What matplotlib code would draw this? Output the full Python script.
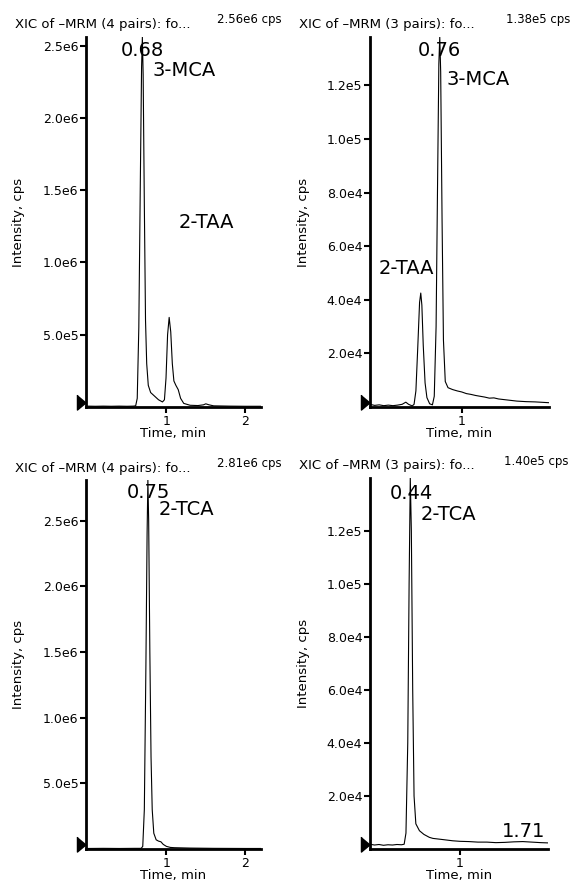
import matplotlib.pyplot as plt
from matplotlib.ticker import FixedLocator, FuncFormatter

plt.rcParams.update(
    {
        "font.family": "DejaVu Sans",
        "font.size": 9,
        "axes.linewidth": 2.0,
    }
)

# top-left: 3-MCA / 2-TAA, 4 pairs
tl_time = [0.00, 0.10, 0.20, 0.30, 0.40, 0.50, 0.58, 0.61, 0.63, 0.65, 0.67, 0.685,
           0.695, 0.705, 0.72, 0.735, 0.75, 0.77, 0.80, 0.85, 0.90, 0.95, 0.975,
           0.995, 1.015, 1.035, 1.055, 1.075, 1.095, 1.12, 1.15, 1.18, 1.22, 1.30,
           1.40, 1.47, 1.50, 1.54, 1.60, 1.80, 2.00, 2.20]
tl_cps = [0.006, 0.005, 0.006, 0.005, 0.006, 0.005, 0.006, 0.008, 0.06, 0.55, 1.60,
          2.35, 2.56, 2.30, 1.40, 0.60, 0.30, 0.15, 0.10, 0.075, 0.05, 0.035, 0.05,
          0.20, 0.50, 0.62, 0.52, 0.30, 0.18, 0.15, 0.12, 0.06, 0.025, 0.012,
          0.010, 0.015, 0.022, 0.015, 0.008, 0.006, 0.005, 0.005]  # x1e6

# top-right: 2-TAA / 3-MCA, 3 pairs
tr_time = [0.00, 0.05, 0.10, 0.15, 0.20, 0.25, 0.30, 0.35, 0.39, 0.42, 0.46, 0.48,
           0.50, 0.52, 0.54, 0.553, 0.565, 0.58, 0.60, 0.62, 0.65, 0.68, 0.70, 0.72,
           0.735, 0.75, 0.76, 0.77, 0.785, 0.80, 0.82, 0.85, 0.90, 0.95, 1.00, 1.05,
           1.10, 1.15, 1.20, 1.25, 1.30, 1.35, 1.40, 1.50, 1.60, 1.70, 1.80, 1.90,
           1.95]
tr_cps = [0.10, 0.06, 0.08, 0.05, 0.07, 0.05, 0.07, 0.10, 0.18, 0.10, 0.04, 0.10,
          0.60, 2.20, 3.90, 4.25, 3.80, 2.30, 0.90, 0.35, 0.12, 0.08, 0.40, 3.00,
          8.00, 12.8, 13.8, 12.5, 7.00, 2.50, 0.95, 0.72, 0.65, 0.60, 0.56, 0.50,
          0.47, 0.43, 0.40, 0.37, 0.33, 0.34, 0.30, 0.26, 0.22, 0.20, 0.19, 0.17,
          0.16]  # x1e4

# bottom-left: 2-TCA, 4 pairs
bl_time = [0.00, 0.20, 0.40, 0.60, 0.68, 0.70, 0.72, 0.74, 0.755, 0.765, 0.775,
           0.79, 0.805, 0.82, 0.84, 0.87, 0.90, 0.93, 0.96, 1.00, 1.05, 1.10, 1.30,
           1.60, 2.00, 2.20]
bl_cps = [0.004, 0.005, 0.004, 0.005, 0.005, 0.02, 0.30, 1.40, 2.40, 2.81, 2.50,
          1.50, 0.70, 0.30, 0.12, 0.07, 0.06, 0.055, 0.035, 0.02, 0.012, 0.010,
          0.007, 0.005, 0.004, 0.004]  # x1e6

# bottom-right: 2-TCA, 3 pairs
br_time = [0.00, 0.05, 0.10, 0.15, 0.20, 0.25, 0.30, 0.35, 0.38, 0.40, 0.42, 0.435,
           0.448, 0.46, 0.475, 0.49, 0.51, 0.55, 0.60, 0.66, 0.70, 0.80, 0.92, 1.00,
           1.10, 1.20, 1.30, 1.40, 1.50, 1.60, 1.70, 1.80, 1.90, 1.98]
br_cps = [0.18, 0.15, 0.17, 0.14, 0.16, 0.15, 0.17, 0.16, 0.18, 0.60, 4.0, 10.0,
          14.0, 12.0, 6.0, 2.0, 0.95, 0.69, 0.55, 0.44, 0.40, 0.36, 0.31, 0.29,
          0.28, 0.26, 0.26, 0.24, 0.25, 0.27, 0.28, 0.26, 0.24, 0.23]  # x1e4

headers = ["XIC of \u2013MRM (4 pairs): fo...", "XIC of \u2013MRM (3 pairs): fo...",
           "XIC of \u2013MRM (4 pairs): fo...", "XIC of \u2013MRM (3 pairs): fo..."]
max_cps = [2.56e6, 1.38e5, 2.81e6, 1.40e5]
scales = [1e6, 1e4, 1e6, 1e4]
xmax = [2.2, 1.95, 2.2, 1.98]
x_ticks = [[1, 2], [1], [1, 2], [1]]
y_ticks = [
    [5e5, 1e6, 1.5e6, 2e6, 2.5e6],
    [2e4, 4e4, 6e4, 8e4, 1e5, 1.2e5],
    [5e5, 1e6, 1.5e6, 2e6, 2.5e6],
    [2e4, 4e4, 6e4, 8e4, 1e5, 1.2e5],
]
# (text, x, y) peak annotations: retention times and compound names
peak_labels = [
    [("0.68", 0.695, 2.43e6, "center"), ("3-MCA", 0.82, 2.29e6, "left"),
     ("2-TAA", 1.15, 1.24e6, "left")],
    [("0.76", 0.755, 1.31e5, "center"), ("3-MCA", 0.835, 1.20e5, "left"),
     ("2-TAA", 0.09, 4.96e4, "left")],
    [("0.75", 0.77, 2.67e6, "center"), ("2-TCA", 0.895, 2.54e6, "left")],
    [("0.44", 0.455, 1.32e5, "center"), ("2-TCA", 0.567, 1.24e5, "left"),
     ("1.71", 1.71, 4.4e3, "center")],
]

series = [(tl_time, tl_cps), (tr_time, tr_cps), (bl_time, bl_cps), (br_time, br_cps)]

W, H = 572, 888
# axes boxes in pixels: left, top, right, bottom
boxes = [(86, 37, 261, 407), (370, 37, 549, 407), (86, 480, 261, 849), (370, 478, 548, 849)]


def sci_label(v, _pos):
    mant, exp = f"{v:.1e}".split("e")
    return f"{mant}e{int(exp)}"


fig = plt.figure(figsize=(W / 100, H / 100), dpi=100)

for i, (t, y) in enumerate(series):
    l, tp, r, b = boxes[i]
    ax = fig.add_axes([l / W, 1 - b / H, (r - l) / W, (b - tp) / H])
    ax.plot(t, [v * scales[i] for v in y], color="black", linewidth=0.8)
    ax.set_xlim(0 if i % 2 else -0.02, xmax[i])
    ax.set_ylim(0, max_cps[i])
    ax.spines[["top", "right"]].set_visible(False)
    ax.xaxis.set_major_locator(FixedLocator(x_ticks[i]))
    ax.yaxis.set_major_locator(FixedLocator(y_ticks[i]))
    ax.yaxis.set_major_formatter(FuncFormatter(sci_label))
    ax.tick_params(axis="both", length=4, width=1.5, pad=1.5, labelsize=9)

    ax.set_xlabel("Time, min", fontsize=9.5)
    ax.set_ylabel("Intensity, cps", fontsize=9.5)
    ax.xaxis.set_label_coords(0.5, -0.055)
    ax.yaxis.set_label_coords(-0.35 if i % 2 == 0 else -0.335, 0.5)

    for text, x, yy, ha in peak_labels[i]:
        ax.text(x, yy, text, fontsize=14, ha=ha, va="baseline")

    # baseline marker
    ax.plot([0], [0.014], transform=ax.transAxes, marker=[(-0.6, 0.5), (-0.6, -0.5), (0, 0)],
            markersize=13, color="black", clip_on=False)

    ax.annotate(headers[i], xy=(0, 1), xycoords="axes fraction",
                xytext=(-71 * 0.72, 12 * 0.72), textcoords="offset points",
                ha="left", va="center", fontsize=9.5)
    ax.annotate(f"{max_cps[i]:.2e}".replace("e+0", "e") + " cps", xy=(1, 1),
                xycoords="axes fraction", xytext=(21 * 0.72, 17 * 0.72),
                textcoords="offset points", ha="right", va="center", fontsize=8.5)

fig.savefig("out.png", dpi=100)
